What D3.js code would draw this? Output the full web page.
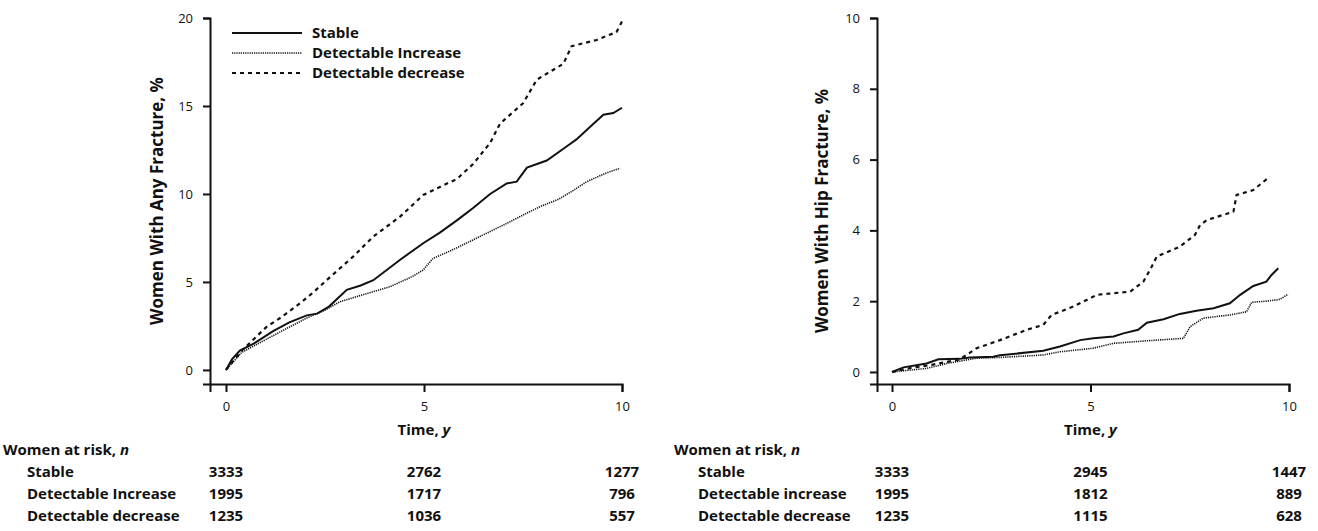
<!DOCTYPE html>
<html>
<head>
<meta charset="utf-8">
<script src="https://cdn.jsdelivr.net/npm/d3@7"></script>
<style>
  body { margin: 0; background: #fff; }
  svg { display: block; }
  .tick text { font-family: "Open Sans", sans-serif; font-size: 13px; fill: #111; }
  .bold { font-family: "Open Sans", sans-serif; font-weight: bold; font-size: 15px; fill: #111; }
  .title { font-family: "Open Sans", sans-serif; font-weight: bold; font-size: 17px; fill: #111; }
</style>
</head>
<body>
<div id="chart"></div>
<script>
// values
const timeTicks = [0, 5, 10];
const groups = ["Stable", "Detectable Increase", "Detectable decrease"];
const groupsRight = ["Stable", "Detectable increase", "Detectable decrease"];

const anyStable = [[0,0],[0.15,0.6],[0.35,1.1],[0.7,1.5],[1.19,2.2],[1.6,2.7],[2.04,3.1],[2.3,3.2],[2.6,3.6],[3.05,4.55],[3.4,4.8],[3.72,5.1],[4.39,6.25],[4.98,7.2],[5.4,7.8],[5.83,8.5],[6.24,9.2],[6.67,10.0],[7.09,10.6],[7.34,10.7],[7.6,11.5],[8.1,11.9],[8.6,12.7],[8.85,13.1],[9.19,13.8],[9.53,14.5],[9.78,14.6],[10,14.9]];
const anyIncrease = [[0,0],[0.4,1.0],[0.9,1.6],[1.4,2.2],[2.04,2.95],[2.5,3.4],[2.88,3.88],[3.5,4.3],[4.14,4.73],[4.7,5.3],[4.98,5.68],[5.23,6.34],[5.7,6.8],[6.24,7.39],[6.7,7.9],[7.09,8.33],[7.5,8.8],[7.93,9.28],[8.4,9.7],[8.77,10.2],[9.11,10.7],[9.61,11.2],[9.95,11.46]];
const anyDecrease = [[0,0],[0.4,1.1],[1.03,2.46],[1.4,3.0],[1.87,3.79],[2.2,4.4],[2.54,5.1],[3.21,6.44],[3.72,7.58],[4.39,8.7],[4.98,9.94],[5.4,10.4],[5.83,10.85],[6.24,11.7],[6.67,12.9],[6.92,14.0],[7.5,15.15],[7.85,16.5],[8.52,17.4],[8.73,18.4],[9.36,18.75],[9.86,19.2],[10,19.8]];

const hipStable = [[0,0],[0.29,0.13],[0.87,0.24],[1.17,0.36],[1.7,0.37],[1.96,0.41],[2.55,0.43],[2.72,0.47],[3.81,0.6],[4.23,0.72],[4.74,0.9],[5.07,0.95],[5.58,1.0],[5.83,1.09],[6.2,1.19],[6.42,1.39],[6.84,1.49],[7.25,1.64],[7.67,1.73],[8.1,1.8],[8.51,1.94],[8.77,2.18],[9.1,2.43],[9.43,2.55],[9.56,2.74],[9.73,2.93]];
const hipIncrease = [[0,0],[0.87,0.1],[1.38,0.24],[2.13,0.39],[2.72,0.41],[3.81,0.48],[4.23,0.57],[5.07,0.67],[5.58,0.81],[6.42,0.88],[7.34,0.95],[7.51,1.28],[7.84,1.52],[8.51,1.61],[8.93,1.7],[9.06,1.97],[9.43,2.0],[9.77,2.05],[9.98,2.2]];
const hipDecrease = [[0,0],[0.5,0.12],[1.0,0.2],[1.7,0.35],[2.13,0.67],[2.72,0.9],[3.39,1.19],[3.81,1.33],[4.02,1.61],[4.57,1.85],[5.16,2.18],[6.0,2.27],[6.33,2.55],[6.54,2.97],[6.67,3.26],[7.25,3.54],[7.63,3.87],[7.76,4.15],[7.93,4.29],[8.6,4.53],[8.68,5.0],[9.1,5.14],[9.31,5.33],[9.52,5.52]];

const anyRisk = [[3333, 2762, 1277], [1995, 1717, 796], [1235, 1036, 557]];
const hipRisk = [[3333, 2945, 1447], [1995, 1812, 889], [1235, 1115, 628]];

const styles = [
  { width: 2, dash: null },
  { width: 1.6, dash: "1.2,1" },
  { width: 2.2, dash: "4,4" }
];

const svg = d3.select("#chart").append("svg")
  .attr("width", 1318)
  .attr("height", 531);

function panel(opt) {
  const x = d3.scaleLinear().domain(opt.xDomain).range(opt.xRange);
  const y = d3.scaleLinear().domain(opt.yDomain).range(opt.yRange);

  const xAxis = svg.append("g")
    .attr("transform", `translate(0,${opt.yRange[0]})`)
    .call(d3.axisBottom(x).tickValues(timeTicks).tickSizeOuter(0).tickSize(8).tickPadding(10));
  const yAxis = svg.append("g")
    .attr("transform", `translate(${opt.xRange[0]},0)`)
    .call(d3.axisLeft(y).tickValues(opt.yTicks).tickSizeOuter(0).tickSize(7).tickPadding(10));
  [xAxis, yAxis].forEach(g => {
    g.select(".domain").attr("stroke", "#111").attr("stroke-width", 2);
    g.selectAll(".tick line").attr("stroke", "#111").attr("stroke-width", 2);
    g.selectAll(".tick text").attr("font-size", 13);
  });

  const line = d3.line().x(d => x(d[0])).y(d => y(d[1]));
  opt.series.forEach((s, i) => {
    svg.append("path")
      .datum(s)
      .attr("fill", "none")
      .attr("stroke", "#111")
      .attr("stroke-width", styles[i].width)
      .attr("stroke-dasharray", styles[i].dash)
      .attr("d", line);
  });

  // axis titles
  svg.append("text")
    .attr("class", "title")
    .attr("transform", `translate(${opt.yTitleX},${opt.yTitleY}) rotate(-90)`)
    .attr("text-anchor", "middle")
    .text(opt.yTitle);

  const tt = svg.append("text")
    .attr("class", "bold")
    .attr("x", x(5))
    .attr("y", 435)
    .attr("text-anchor", "middle");
  tt.append("tspan").text("Time, ");
  tt.append("tspan").attr("font-style", "italic").text("y");

  // at-risk table
  const head = svg.append("text")
    .attr("class", "bold")
    .attr("x", opt.tableX)
    .attr("y", 455);
  head.append("tspan").text("Women at risk, ");
  head.append("tspan").attr("font-style", "italic").text("n");

  opt.risk.forEach((row, r) => {
    const ry = 477 + r * 22;
    svg.append("text")
      .attr("class", "bold")
      .attr("x", opt.tableX + 24)
      .attr("y", ry)
      .text(opt.labels[r]);
    svg.selectAll(null)
      .data(row)
      .enter()
      .append("text")
      .attr("class", "bold")
      .attr("x", (d, i) => x(timeTicks[i]))
      .attr("y", ry)
      .attr("text-anchor", "middle")
      .text(d => d);
  });

  return { x, y };
}

panel({
  xDomain: [-0.404, 10], xRange: [210, 622],
  yDomain: [-0.8, 20], yRange: [384, 18],
  yTicks: [0, 5, 10, 15, 20],
  series: [anyStable, anyIncrease, anyDecrease],
  yTitle: "Women With Any Fracture, %", yTitleX: 163, yTitleY: 201,
  risk: anyRisk, labels: groups, tableX: 3
});

panel({
  xDomain: [-0.378, 10], xRange: [877, 1289],
  yDomain: [-0.34, 10], yRange: [384, 18],
  yTicks: [0, 2, 4, 6, 8, 10],
  series: [hipStable, hipIncrease, hipDecrease],
  yTitle: "Women With Hip Fracture, %", yTitleX: 828, yTitleY: 211,
  risk: hipRisk, labels: groupsRight, tableX: 674
});

// legend
const legend = svg.append("g").attr("transform", "translate(232,33)");
groups.forEach((g, i) => {
  legend.append("line")
    .attr("x1", 0).attr("x2", 70)
    .attr("y1", i * 20).attr("y2", i * 20)
    .attr("stroke", "#111")
    .attr("stroke-width", styles[i].width)
    .attr("stroke-dasharray", styles[i].dash);
  legend.append("text")
    .attr("class", "bold")
    .attr("x", 80)
    .attr("y", i * 20 + 5)
    .text(g);
});
</script>
</body>
</html>
